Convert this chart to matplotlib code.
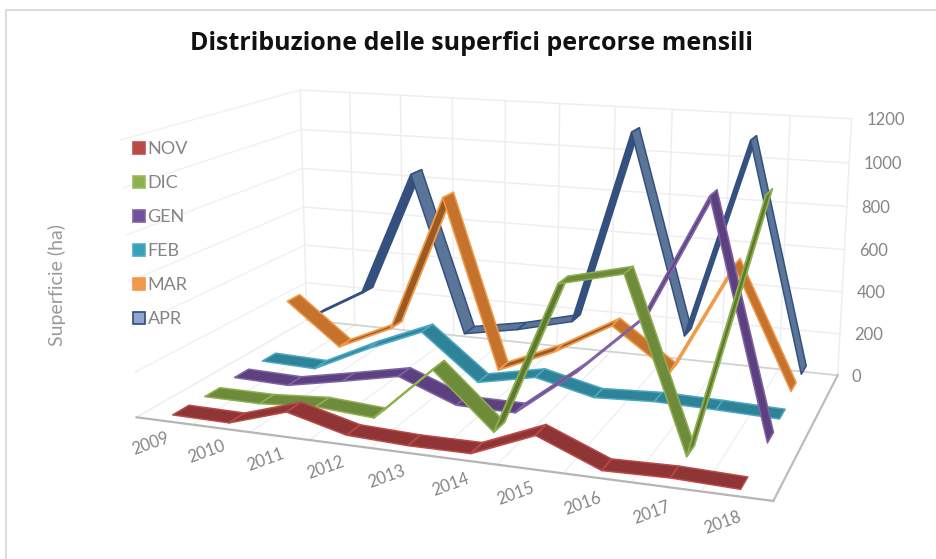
import matplotlib
matplotlib.use('Agg')
import matplotlib.pyplot as plt
from matplotlib.patches import Patch
from mpl_toolkits.mplot3d import proj3d
from mpl_toolkits.mplot3d.art3d import Poly3DCollection

YEARS = ['2009', '2010', '2011', '2012', '2013', '2014', '2015', '2016', '2017', '2018']
NOV = [5, 2, 83, 15, 4, 5, 116, 5, 11, 2]
DIC = [2, 1, 19, 1, 247, 4, 666, 731, 2, 1086]
GEN = [9, 2, 52, 105, 3, 1, 213, 465, 1012, 1]
FEB = [9, 1, 126, 235, 25, 79, 16, 29, 24, 15]
MAR = [234, 31, 150, 806, 2, 120, 272, 82, 600, 53]
APR = [86, 232, 849, 78, 126, 193, 1116, 178, 1110, 51]
SERIES = ['NOV', 'DIC', 'GEN', 'FEB', 'MAR', 'APR']
VALUES = [NOV, DIC, GEN, FEB, MAR, APR]
ZTICKS = [0, 200, 400, 600, 800, 1000, 1200]

DARK = ['#8f3535', '#6d8b3b', '#5d4080', '#2f8398', '#c5722d', '#5b7599']
RISE = ['#8f3535', '#5f7a30', '#5d4080', '#2f8398', '#9c5a20', '#33507f']
LIGHT = ['#b94a48', '#8fb04f', '#7f63a2', '#4aa8c0', '#f09a4a', '#33507f']
LEG_FACE = ['#b94a48', '#8fb04f', '#7350a0', '#3a9fb8', '#f09a4a', '#8ea6cc']
LEG_EDGE = ['#c0504d', '#9bbb59', '#8064a2', '#4bacc6', '#f79646', '#2f4b7c']

W, H = 936, 559
GREY = '#858585'
FONT = 'Lato'

fig = plt.figure(figsize=(W / 100, H / 100), dpi=100)
fig.add_artist(plt.Line2D([6 / W, 6 / W, 1], [0, 1 - 9.5 / H, 1 - 9.5 / H], transform=fig.transFigure,
                          color='#dcdcdc', lw=1.5, zorder=-5))
ax = fig.add_axes([0.1218, -0.1672, 0.8063, 1.3502], projection='3d', computed_zorder=False)
ax.patch.set_alpha(0)
ax.set_xlim(0, 10, view_margin=0)
ax.set_ylim(0, 6, view_margin=0)
ax.set_zlim(0, 1200, view_margin=0)
ax.set_autoscale_on(False)
ax.view_init(elev=13.902, azim=-70.222, roll=-0.085)
ax.set_proj_type('persp', focal_length=0.394)
ax.set_box_aspect((2.279, 1.351, 1.0))
ax.set_axis_off()
M = ax.get_proj()


def label(x, y, z, s, **kw):
    u, v, _ = proj3d.proj_transform(x, y, z, M)
    ax.text2D(float(u), float(v), s, transform=ax.transData, color=GREY, fontsize=12,
              family=FONT, zorder=30, **kw)


for z in ZTICKS:
    ax.plot([0, 10], [6, 6], [z, z], color='#eeeeee', lw=1.1, zorder=1)
    ax.plot([0, 0], [0, 6], [z, z], color='#f2f2f2', lw=1.1, zorder=1)
    label(10.24, 6, z, str(z), ha='left', va='center')
for i in range(11):
    ax.plot([i, i], [6, 6], [0, 1200], color='#eeeeee', lw=1.1, zorder=1)
    ax.plot([i, i], [0, 6], [0, 0], color='#f0f0f0', lw=1, zorder=1)
ax.plot([0, 10], [6, 6], [0, 0], color='#d2d2d2', lw=1.2, zorder=2)
ax.plot([0, 10], [0, 0], [0, 0], color='#b5b5b5', lw=1.6, zorder=2)
ax.plot([10, 10], [0, 6], [0, 0], color='#bdbdbd', lw=1.6, zorder=2)

HW = 0.25
for k, row in enumerate(VALUES):
    polys, faces, widths = [], [], []
    for i in range(len(row) - 1):
        a, b = row[i], row[i + 1]
        polys.append([(i + .5, k + .5 - HW, a), (i + 1.5, k + .5 - HW, b),
                      (i + 1.5, k + .5 + HW, b), (i + .5, k + .5 + HW, a)])
        rising = b - a > 100
        faces.append(RISE[k] if rising else DARK[k])
        widths.append(1.3 if rising else 1.1)
    ax.add_collection3d(Poly3DCollection(polys, facecolors=faces, edgecolors=LIGHT[k],
                                         linewidths=widths, zorder=10 - k))
for i, y in enumerate(YEARS):
    label(i + .35, -0.2, -90, y, rotation=20, ha='center', va='center', rotation_mode='anchor')

fig.text(471 / W, 1 - 44 / H, 'Distribuzione delle superfici percorse mensili', ha='center', va='center',
         fontsize=18, fontweight='bold', family='Open Sans', color='#111111')
fig.text(57 / W, 1 - 285 / H, 'Superficie (ha)', rotation=90, ha='center', va='center',
         fontsize=14, family=FONT, color='#9a9a9a')
handles = [Patch(fc=f, ec=e, lw=1.2) for f, e in zip(LEG_FACE, LEG_EDGE)]
fig.legend(handles, SERIES, loc='upper left', bbox_to_anchor=(133 / W, 1 - 141 / H), frameon=False,
           borderpad=0, borderaxespad=0, handlelength=0.65, handleheight=0.65, handletextpad=0.15,
           labelspacing=1.0, prop={'family': FONT, 'size': 13}, labelcolor=GREY)
fig.savefig('out.png', dpi=100)
